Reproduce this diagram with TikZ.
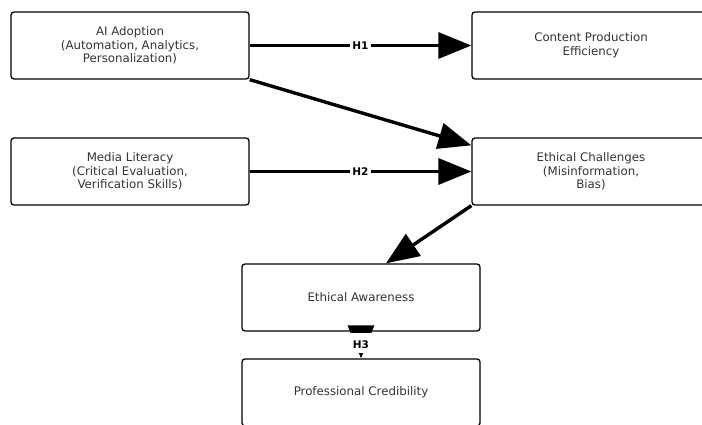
\documentclass[tikz,border=0pt]{standalone}
\usepackage{fontspec}
\setmainfont{DejaVu Sans}
\usetikzlibrary{arrows.meta,calc}
\definecolor{txt}{HTML}{333333}
\begin{document}
\begin{tikzpicture}[x=1pt,y=-1pt,
  box/.style={draw=black, line width=1.3pt, rounded corners=3pt, fill=white,
    minimum width=238pt, minimum height=67pt, align=center, text=txt,
    font=\fontsize{11.8}{13.6}\selectfont, inner sep=0pt},
  conn/.style={line width=3.4pt, -{Triangle[length=33pt,width=26pt]}},
  hlab/.style={fill=white, text=black, font=\fontsize{10.5}{12}\selectfont\bfseries,
    inner xsep=2.5pt, inner ysep=2.5pt, text height=13pt, text depth=1.5pt,
    anchor=base, yshift=-3.8pt}]
\useasboundingbox (0,0) rectangle (702,425);
\node[box] (ai)  at (130,45.5)  {AI Adoption\\(Automation, Analytics,\\Personalization)};
\node[box] (cpe) at (591,45.5)  {Content Production\\Efficiency};
\node[box] (ml)  at (130,171.5) {Media Literacy\\(Critical Evaluation,\\Verification Skills)};
\node[box] (ec)  at (591,171.5) {Ethical Challenges\\(Misinformation,\\Bias)};
\node[box] (ea)  at (361,297.5) {Ethical Awareness};
\node[box] (pc)  at (361,392.5) {Professional Credibility};

\draw[conn] (ai.east) -- node[hlab] {H1} (cpe.west);
\draw[conn] (ai.south east) -- ($(ec.north west)+(0,8)$);
\draw[conn] (ml.east) -- node[hlab] {H2} (ec.west);
\draw[conn] (ec.south west) -- ($(ea.north)+(25,0)$);
\draw[conn] (ea.south) -- (pc.north);
\node[hlab] (h3) at ($(ea.south)!0.5!(pc.north)$) {H3};
\end{tikzpicture}
\end{document}
